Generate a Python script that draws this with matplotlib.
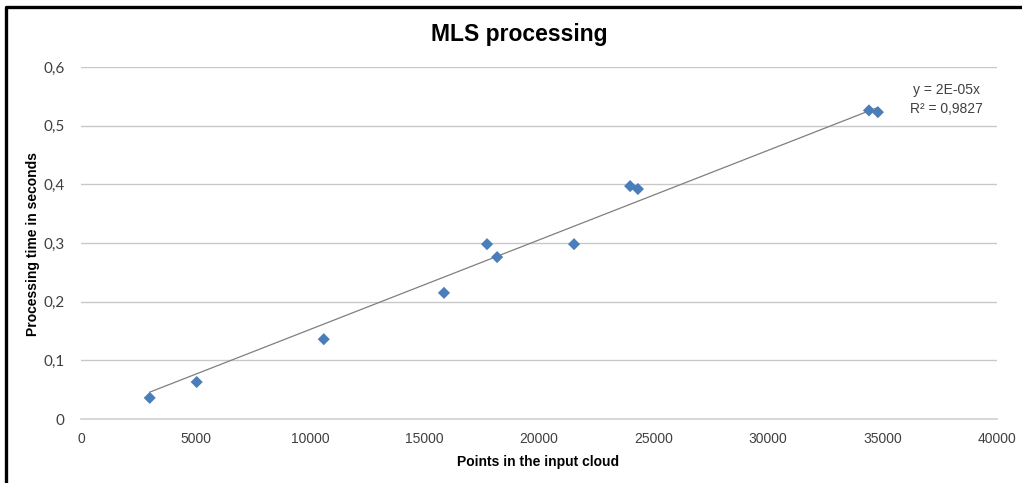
import matplotlib.pyplot as plt
from matplotlib.ticker import FuncFormatter
from matplotlib.lines import Line2D
import numpy as np

# points
points = [3000, 5050, 10600, 15850, 17730, 18170, 21530, 23980, 24320, 34410, 34800]
seconds = [0.036, 0.063, 0.136, 0.215, 0.298, 0.276, 0.298, 0.397, 0.392, 0.526, 0.523]
xticks = [0, 5000, 10000, 15000, 20000, 25000, 30000, 35000, 40000]
yticks = [0, 0.1, 0.2, 0.3, 0.4, 0.5, 0.6]

fig = plt.figure(figsize=(10.22, 4.83), dpi=100)
ax = fig.add_axes([0.0793, 0.1325, 0.8962, 0.7288])

x = np.array(points)
y = np.array(seconds)
# linear trend forced through the origin
slope = (x * y).sum() / (x * x).sum()
xs = np.array([x.min(), x.max()])
ax.plot(xs, slope * xs, color='#7f7f7f', lw=0.9, zorder=2)
ax.scatter(x, y, marker='D', s=38, color='#4a7ebb', edgecolors='none', zorder=3)

ax.set_xlim(0, 40000)
ax.set_ylim(0, 0.6)
ax.set_xticks(xticks)
ax.set_yticks(yticks)
ax.yaxis.set_major_formatter(FuncFormatter(lambda v, p: '0' if v == 0 else ('%.1f' % v).replace('.', ',')))
ax.grid(axis='y', color='#c8c8c8', lw=1)
ax.set_axisbelow(True)
for s in ['top', 'right', 'left']:
    ax.spines[s].set_visible(False)
ax.spines['bottom'].set_color('#d0d0d0')
ax.spines['bottom'].set_linewidth(1.2)
ax.tick_params(length=0, labelcolor='#404040')
ax.tick_params(axis='x', pad=9, labelsize=10)
ax.tick_params(axis='y', pad=12, labelsize=11)
for lab in ax.get_xticklabels():
    lab.set_family(['Liberation Sans', 'DejaVu Sans'])
for lab in ax.get_yticklabels():
    lab.set_family(['Lato', 'DejaVu Sans'])

sans = ['Liberation Sans', 'DejaVu Sans']
fig.text(519 / 1022, 1 - 35 / 483, 'MLS processing', ha='center', va='center',
         fontsize=16.5, fontweight='bold', family=sans)
fig.text(538 / 1022, 1 - 462 / 483, 'Points in the input cloud', ha='center', va='center',
         fontsize=10, fontweight='bold', family=sans)
fig.text(33 / 1022, 1 - 244 / 483, 'Processing time in seconds', ha='center', va='center',
         rotation=90, fontsize=10, fontweight='bold', family=sans)

fig.text(946 / 1022, 1 - 90 / 483, 'y = 2E-05x', ha='center', va='center',
         fontsize=10, color='#404040', family=sans)
fig.text(946 / 1022, 1 - 109 / 483, 'R² = 0,9827', ha='center', va='center',
         fontsize=10, color='#404040', family=sans)

# frame around the chart (left and top edge visible)
fig.add_artist(Line2D([6 / 1022, 6 / 1022, 1], [0, 1 - 7 / 483, 1 - 7 / 483],
                      color='black', lw=2.4, transform=fig.transFigure))

plt.savefig('out.png', dpi=100)
